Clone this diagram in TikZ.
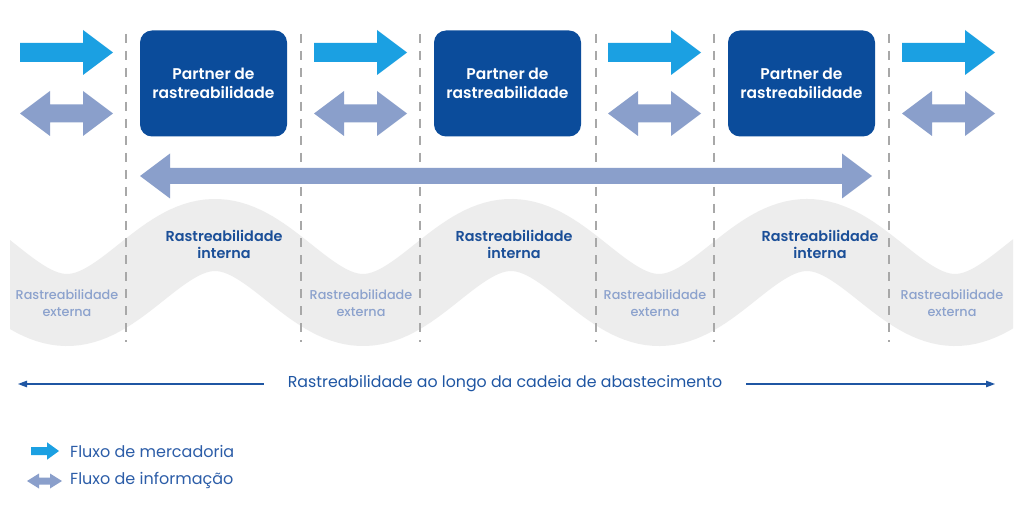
\documentclass[tikz,border=0pt]{standalone}
\usepackage{fontspec}
\setmainfont{Poppins}
\IfFontExistsTF{Poppins SemiBold}{\newfontfamily\semibf{Poppins SemiBold}}{\newcommand\semibf{\bfseries}}
\IfFontExistsTF{Poppins Medium}{\newfontfamily\medf{Poppins Medium}}{\newcommand\medf{\bfseries}}
\usetikzlibrary{arrows.meta}
\definecolor{boxblue}{HTML}{0B4C9B}
\definecolor{goods}{HTML}{1BA0E2}
\definecolor{info}{HTML}{8A9FCB}
\definecolor{bandgrey}{HTML}{EDEDED}
\definecolor{dashgrey}{HTML}{A8A8A8}
\definecolor{intblue}{HTML}{1B4F98}
\definecolor{extblue}{HTML}{8CA2CD}
\definecolor{lineblue}{HTML}{1F56A3}
\definecolor{legtext}{HTML}{2C5DA8}
% single arrow: x0, yc, length, shaft half, head half, head length, style
\newcommand\oneArrow[7]{\fill[#7] (#1,#2-#4) -- (#1+#3-#6,#2-#4) -- (#1+#3-#6,#2-#5) -- (#1+#3,#2) -- (#1+#3-#6,#2+#5) -- (#1+#3-#6,#2+#4) -- (#1,#2+#4) -- cycle;}
% double arrow
\newcommand\twoArrow[7]{\fill[#7] (#1,#2) -- (#1+#6,#2-#5) -- (#1+#6,#2-#4) -- (#1+#3-#6,#2-#4) -- (#1+#3-#6,#2-#5) -- (#1+#3,#2) -- (#1+#3-#6,#2+#5) -- (#1+#3-#6,#2+#4) -- (#1+#6,#2+#4) -- (#1+#6,#2+#5) -- cycle;}
\tikzset{
  partner/.style={fill=boxblue, rounded corners=12pt, minimum width=147pt, minimum height=106pt,
    text=white, align=center, inner sep=0pt, font=\fontsize{15.5}{19}\selectfont\semibf},
  dashline/.style={dashgrey, line width=1.4pt, dash pattern=on 9pt off 8pt},
  inttext/.style={text=intblue, align=center, inner sep=0pt, font=\fontsize{14.4}{17}\selectfont\semibf},
  exttext/.style={text=extblue, align=center, inner sep=0pt, font=\fontsize{12.8}{17}\selectfont\medf},
  chainline/.style={lineblue, line width=1.1pt, -{Triangle[length=9pt,width=6.5pt]}, shorten <=24pt},
  legtxt/.style={text=legtext, anchor=west, inner sep=0pt, font=\fontsize{16}{18}\selectfont},
}
\begin{document}
\begin{tikzpicture}[x=1pt,y=-1pt]
\useasboundingbox (0,0) rectangle (1024,529);
\fill[white] (0,0) rectangle (1024,529);
% wave band
\begin{scope}
\clip (10,150) rectangle (1013,360);
\draw[bandgrey, line width=72pt] plot[domain=-40:1060, samples=240] (\x,{272.5-37.5*cos(360/296*(\x-215))});
\end{scope}
% dashed separators
\foreach \xx in {126,301,420,596,714,889}{
  \draw[dashline] (\xx,34) -- (\xx,342);
}
% flow arrows
\foreach \xx in {20,314,608,902}{
  \oneArrow{\xx}{52.5}{93}{9.5}{22.5}{30}{goods}
  \twoArrow{\xx}{113.5}{93}{9}{22.5}{30}{info}
}
% partner boxes
\node[partner] (p1) at (213.5,83.5) {Partner de\\rastreabilidade};
\node[partner] (p2) at (507.5,83.5) {Partner de\\rastreabilidade};
\node[partner] (p3) at (801.5,83.5) {Partner de\\rastreabilidade};
% big information arrow
\twoArrow{140}{176}{732}{8}{22.5}{30}{info}
% band texts
\node[inttext] (i1) at (224,244) {Rastreabilidade\\interna};
\node[inttext] (i2) at (514,244) {Rastreabilidade\\interna};
\node[inttext] (i3) at (820,244) {Rastreabilidade\\interna};
\node[exttext] (e1) at (67,303) {Rastreabilidade\\externa};
\node[exttext] (e2) at (361,303) {Rastreabilidade\\externa};
\node[exttext] (e3) at (655,303) {Rastreabilidade\\externa};
\node[exttext] (e4) at (952,303) {Rastreabilidade\\externa};
% supply chain line
\node[text=lineblue, inner sep=0pt, font=\fontsize{15.8}{18}\selectfont] (chain) at (505,384) {Rastreabilidade ao longo da cadeia de abastecimento};
\coordinate (cl) at (18,384);
\coordinate (cr) at (995,384);
\draw[chainline] (chain.west) -- (cl);
\draw[chainline] (chain.east) -- (cr);
% legend
\oneArrow{31}{451}{28}{4}{8.7}{12}{goods}
\twoArrow{27}{481}{35}{3.5}{7.5}{12}{info}
\node[legtxt] (lg1) at (70,451) {Fluxo de mercadoria};
\node[legtxt] (lg2) at (70,480) {Fluxo de informação};
\end{tikzpicture}
\end{document}
